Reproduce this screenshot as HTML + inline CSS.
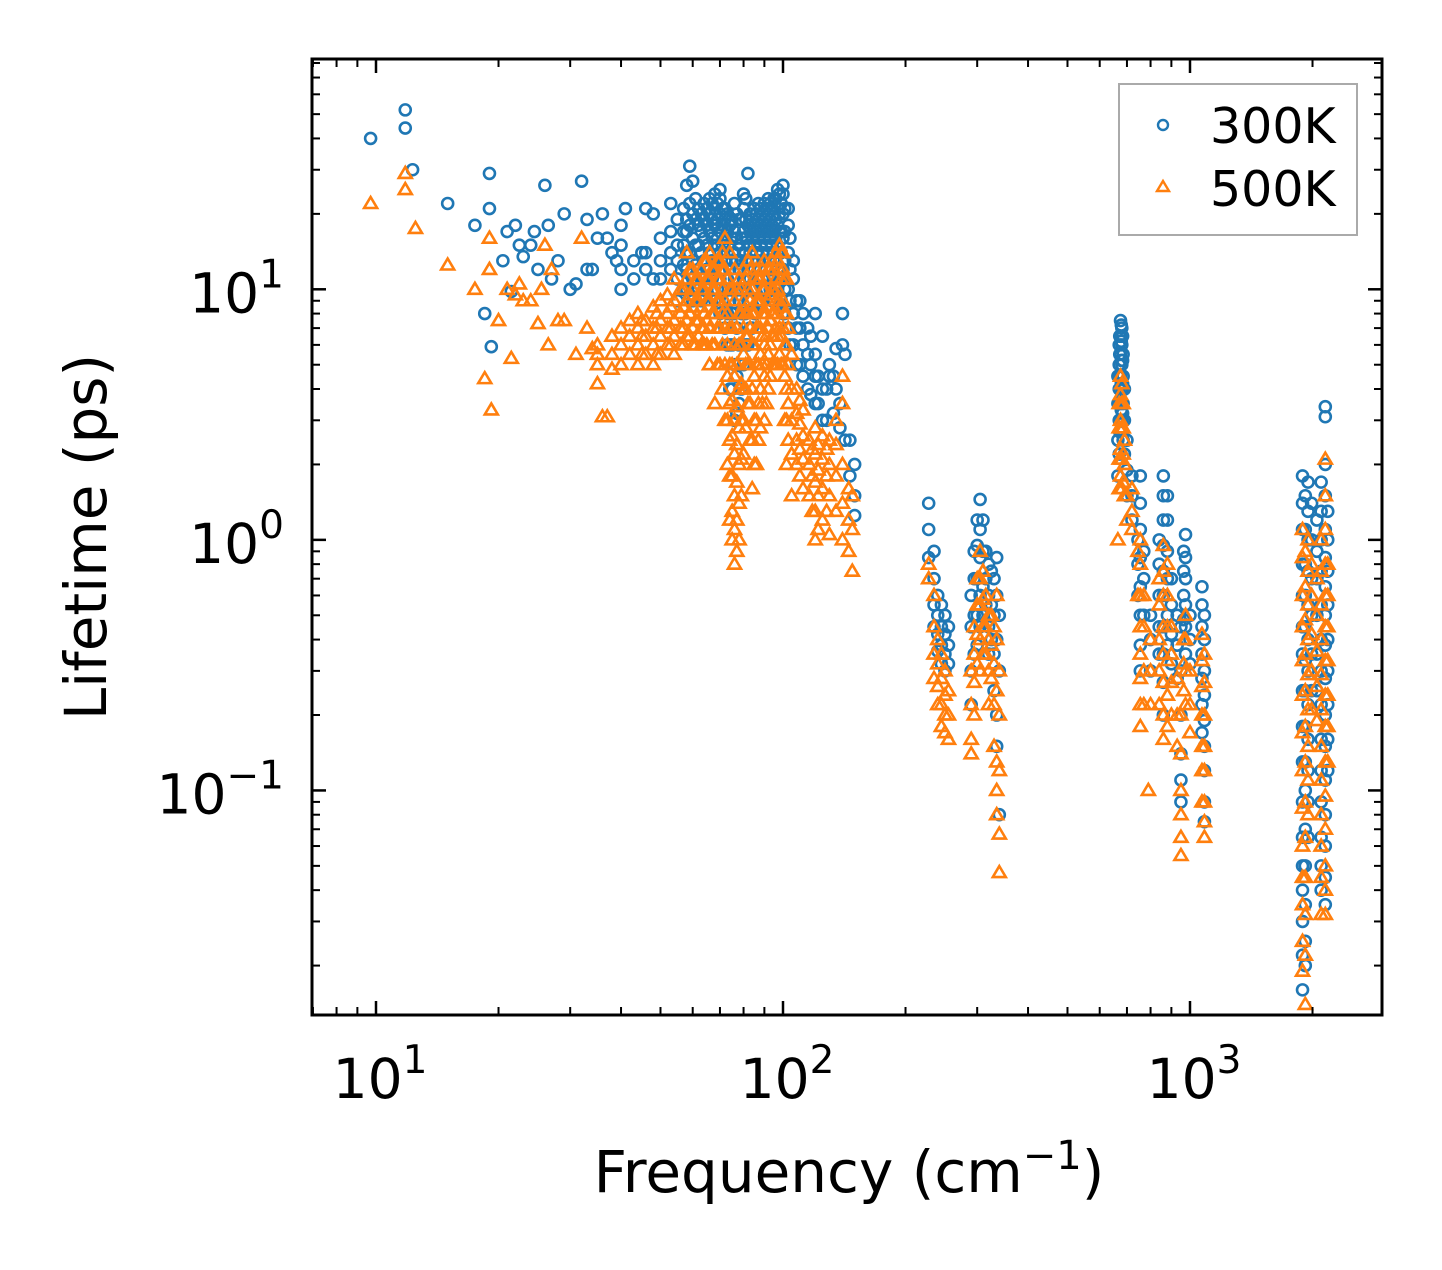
<!DOCTYPE html>
<html><head><meta charset="utf-8"><style>
html,body{margin:0;padding:0;background:#fff;}
svg text{font-family:"DejaVu Sans","Liberation Sans",sans-serif;fill:#000;}
</style></head><body>
<svg id="chart" width="1442" height="1265" viewBox="0 0 1442 1265" xmlns="http://www.w3.org/2000/svg">
<g id="marks300"></g>
<g id="marks500"></g>
<g id="axes"></g>
<text x="0" y="0" transform="translate(106,537) rotate(-90)" text-anchor="middle" font-size="58">Lifetime (ps)</text>
<text x="849" y="1192" text-anchor="middle" font-size="58">Frequency (cm<tspan dy="-23" font-size="40">−1</tspan><tspan dy="23">)</tspan></text>
<g>
<rect x="1119" y="84" width="238" height="151" fill="#fff" stroke="#aaa" stroke-width="2"/>
<circle cx="1163" cy="125" r="5" fill="none" stroke="#1f77b4" stroke-width="2.4"/>
<text x="1210" y="143" font-size="49">300K</text>
<polygon points="1163,181 1169,191 1157,191" fill="none" stroke="#ff7f0e" stroke-width="2.4"/>
<text x="1210" y="206" font-size="49">500K</text>
</g>
</svg>
<script>
// Data: [frequency cm^-1, [lifetimes ps ...]]
const cols300 = [
[9.7,[40]],[11.8,[52,44]],[12.3,[30]],[15,[22]],[17.5,[18]],[18.5,[8]],[19,[29,21]],[19.2,[5.9]],[20.5,[13]],[21,[17]],[21.5,[9.8]],[22,[18]],[22.5,[15]],[23,[13.5]],[24,[15]],[24.5,[17]],[25,[12]],[26,[26]],[26.5,[18]],[27,[11]],[28,[13]],[29,[20]],[30,[10]],[31,[10.5]],[32,[27]],[33,[19,12]],[34,[12]],[35,[16]],[36,[20]],[37,[16]],[38,[14]],[39,[13]],
[40,[10,12,15,18]],[41,[21]],[43,[11,13]],[45,[14]],[46,[12,14,21]],[48,[20,11]],[50,[11,13,16]],[53,[12,14,17,22]],[55,[9,11,13,15,19]],[57,[21]],[58,[10,12,14,17,19,26]],[59,[31]],[60,[9,11,13,16,20,27]],[62,[10,12,15,18,21]],[64,[11,13,16,19,22]],[66,[12,14,17,20,23]],[68,[9,12,15,18,21,24]],[70,[8,11,14,17,20,23,25]],[72,[7,10,13,16,19,21]],[74,[4,6,9,12,15,18]],[76,[3,5,8,11,14,17,22]],[78,[3.5,6,9,12,15,19]],[80,[5,8,11,14,17,21,24]],[82,[6,9,12,15,18,29]],[84,[7,10,13,16,19]],[86,[8,11,14,17,20]],[88,[9,12,15,18,21]],[90,[10,13,16,19,22]],[92,[11,14,17,20,23]],[94,[9,12,15,18,21]],[96,[10,13,16,19,23]],[98,[11,14,17,20,24]],[100,[8,12,16,20,24,26]],[103,[7,10,14,18,21]],[106,[6,8,11,13]],[110,[5,7,9]],[115,[4,5.5,7]],[120,[3.5,4.5,5.5,8]],[125,[3,4,6.5]],[130,[4.5,5]],[135,[4,5.8]],[138,[3.5,2.8]],[140,[8,6]],[142,[5.5,2.5]],[146,[2.5,1.8]],[150,[2,1.5,1.25]],
[57,[10,12.5,15,17]],[59,[9.5,11.5,14,18,22]],[61,[10,12.5,15,19,23]],[63,[9,11,14,17,20]],[65,[10,12,15,18,21]],[67,[11,13,16,19,22]],[69,[10,13,16,19,22]],[71,[9,12,15,18,21]],[73,[6,8,11,14,17,20]],[75,[4,6,8,10,13,16,19]],[77,[3.2,4.5,7,10,13,16,20]],[79,[4,6,8,10,13,16,19]],[81,[6,8,10,13,16,19,23]],[83,[7,9,11,14,17,20]],[85,[8,10,12,15,18,21]],[87,[9,11,13,16,19,22]],[89,[9,11,14,17,20]],[91,[10,12,15,18,21]],[93,[10,13,16,19,22]],[95,[9,11,14,17,20,23]],[97,[10,12,15,18,21,25]],[99,[9,11,14,17,22]],[101,[8,10,13,17,21]],[104,[6,9,12,16]],[108,[5,7,9]],[112,[4.5,6,8]],[117,[3.8,5,6.5]],[122,[3.5,4.5]],[128,[3,4]],[133,[3.2,4.5]],
[228,[1.4,1.1,0.85]],[235,[0.9,0.7,0.55,0.45]],[240,[0.6,0.5,0.42,0.36]],[245,[0.55,0.45,0.38,0.32]],[250,[0.5,0.42,0.35,0.3]],[255,[0.45,0.38,0.32]],
[290,[0.6,0.45,0.3,0.22]],[295,[0.9,0.7,0.5,0.35]],[300,[1.2,0.95,0.7,0.5,0.38]],[305,[1.45,1.1,0.85,0.6,0.45]],[310,[1.2,0.9,0.65,0.5]],[315,[0.9,0.7,0.55]],[320,[0.8,0.6,0.45,0.35]],[325,[0.75,0.55,0.4]],[330,[0.7,0.5,0.35,0.25]],[335,[0.85,0.6,0.4,0.2,0.15]],[340,[0.5,0.3,0.08]],
[665,[4.5,3.5,2.5,1.8]],[670,[6,5,4,3,2.2]],[672,[6.5,5.5,4.5,3.6,2.7]],[675,[7.5,6.5,5.5,4.5,3.5]],[678,[7.2,6.2,5.2,4.2,3.3]],[680,[7,6,5,4,3]],[683,[6.5,5.2,4.2,3.2]],[685,[5.5,4.5,3.5,2.5]],[690,[4,3,2.2]],[700,[2.5,1.9,1.5]],[720,[1.8,1.5,1.2]],
[745,[1.0,0.8,0.6]],[755,[1.8,1.4,1.1,0.85,0.65,0.5,0.38,0.3]],[770,[0.9,0.7,0.5]],[800,[0.5,0.4,0.3]],[840,[1.0,0.8,0.6,0.45,0.35]],[860,[1.8,1.5,1.2,0.95,0.75,0.6,0.45,0.35,0.27,0.2]],[880,[1.5,1.2,0.9,0.7,0.5,0.38]],[900,[0.7,0.55,0.42,0.32]],[930,[0.5,0.38,0.28]],[950,[0.45,0.3,0.2,0.14,0.11,0.09]],[965,[0.9,0.75,0.6,0.48]],[975,[1.05,0.85,0.7,0.55,0.45,0.35]],[1000,[0.5,0.4,0.32]],[1070,[0.65,0.55,0.45,0.35,0.28,0.22,0.17]],[1085,[0.5,0.4,0.3,0.24,0.19,0.15,0.12,0.09,0.075]],
[1890,[1.8,1.4,1.1,0.8,0.6,0.45,0.35,0.25,0.18,0.13,0.09,0.065,0.05,0.04,0.03,0.022,0.016]],[1920,[1.5,1.1,0.8,0.6,0.45,0.33,0.25,0.18,0.13,0.1,0.07,0.05,0.035,0.025,0.02]],[1950,[1.7,1.3,1.0,0.75,0.55,0.4,0.3,0.22,0.16,0.12,0.09,0.065]],[1990,[1.4,1.0,0.7,0.5,0.35,0.25]],[2050,[1.2,0.9,0.7,0.5,0.35,0.25]],[2100,[1.7,1.3,1.0,0.75,0.55,0.4,0.3,0.22,0.16,0.12,0.09,0.065,0.05,0.04]],[2150,[3.4,3.1,2.0,1.5,1.1,0.85,0.65,0.5,0.38,0.28,0.2,0.15,0.11,0.08,0.06,0.045,0.035]],[2180,[1.3,1.0,0.75,0.55,0.4,0.3,0.22,0.16,0.12]]
];
const cols500 = [
[9.7,[22]],[11.8,[29,25]],[12.5,[17.5]],[15,[12.5]],[17.5,[10]],[18.5,[4.4]],[19,[16,12]],[19.2,[3.3]],[20,[7.5]],[21,[10]],[21.5,[5.3]],[22,[9.5]],[22.5,[10.5]],[23,[9]],[24,[9]],[25,[7.3]],[25.5,[10]],[26,[15]],[26.5,[6]],[27,[12]],[28,[7.5]],[29,[7.5]],[31,[5.5]],[32,[16]],[33,[7]],[34,[5.8]],[35,[5,5.5,6,4.2]],[36,[3.1]],[37,[3.1]],
[38,[4.8,5.5,6.5]],[40,[5,6,7]],[42,[5.5,6.5,7.5]],[44,[5,6,7,8]],[45,[5.5,6.5,7.5]],[46,[5.5,6.5,7.5]],[48,[5,6,7,8.5]],[49,[5.5,7,8]],[50,[5.5,6.5,7.5,9]],[52,[6,7,8,9.5]],[53,[6,7,8.5]],[54,[5.5,6.5,7.5,9,11]],[56,[6,7,8,10]],[58,[6.5,7.5,9,11,14]],[60,[6,7,8.5,10,12]],[62,[6.5,7.5,9,11]],[64,[6,7,8,10,13]],[66,[5,7,9,11,14]],[68,[3.5,6,8,10,12]],[70,[5,7,9,11,13]],[72,[3,5,7,9,12,16]],[74,[1.2,1.8,2.5,3.5,5,7,10,14]],[76,[0.8,1.1,1.5,2.2,3,4.5,6,9,12]],[78,[1.0,1.4,2,2.8,4,6,8,11]],[80,[2.2,3,4,5.5,7,9,12]],[82,[3.5,5,6.5,8,10,13]],[84,[1.6,2.5,4,6,8,10,14]],[86,[2,3,5,7,9,12]],[88,[2.8,4,5.5,7,9,11]],[90,[3,4.5,6,8,10,13]],[92,[4,5.5,7,9,12]],[94,[5,6.5,8,10,13]],[96,[5,7,9,11,14]],[98,[5.5,7,9,12,15]],[100,[5,7,9,12,14]],[102,[2,3,4,6,8,11]],[105,[1.5,2.2,3,4,5.5]],[108,[2,2.5,3.2,4]],[112,[1.6,2.1,2.6,3.3]],[116,[1.5,2,2.5]],[120,[1.0,1.3,1.7,2.2,2.8]],[125,[1.2,1.6,2.1,2.6]],[130,[1.05,1.5,2,2.5]],[135,[1.3,1.8,2.4,3]],[140,[1.0,1.4,2,3.5,4.5]],[145,[0.9,1.2,1.6]],[148,[0.75,1.1,1.5]],
[57,[6,7,8.5,10]],[59,[6.5,8,9.5,12]],[61,[6,7.5,9,11]],[63,[6,7,8.5,10,12]],[65,[6,7.5,9,11,13]],[67,[6,8,10,12]],[69,[5,7,9,11,13]],[71,[4,6,8,10,12,14]],[73,[2,3,4.5,6,8,11]],[75,[1,1.3,1.8,2.6,3.6,5,7,10]],[77,[0.9,1.2,1.7,2.4,3.4,5,7,10]],[79,[1.5,2.1,3,4.2,6,8,10]],[81,[2.8,4,5,6.5,8,11]],[83,[2.5,3.5,5,7,9,12]],[85,[2,3,4.5,6,8,11]],[87,[2.5,3.5,5,7,9,11]],[89,[3.5,5,6.5,8,10,12]],[91,[3.5,5,6.5,8,11]],[93,[4.5,6,7.5,9.5,12]],[95,[5,6.5,8,10,12]],[97,[5,6.5,8,10,13]],[99,[5,6.5,8.5,11,14]],[101,[3,4.5,6,8,11]],[103,[2.5,3.5,5,7]],[110,[1.8,2.3,2.9,3.6]],[118,[1.3,1.8,2.3]],[122,[1.1,1.5,1.9,2.4]],[128,[1.3,1.8,2.3]],
[228,[0.8,0.7]],[235,[0.6,0.45,0.35,0.28]],[240,[0.4,0.32,0.26,0.22]],[245,[0.35,0.28,0.22,0.18]],[250,[0.3,0.24,0.2,0.17]],[255,[0.25,0.2,0.16]],
[290,[0.3,0.22,0.16,0.14]],[295,[0.45,0.35,0.27,0.2]],[300,[0.7,0.55,0.42,0.32]],[305,[0.9,0.7,0.55,0.4,0.3]],[310,[0.75,0.58,0.45,0.35]],[315,[0.6,0.45,0.35]],[320,[0.5,0.4,0.3,0.22]],[325,[0.5,0.38,0.28]],[330,[0.45,0.32,0.22,0.15]],[335,[0.6,0.4,0.25,0.13,0.1,0.08]],[340,[0.3,0.2,0.12,0.067,0.047]],
[665,[1.0]],[670,[3.5,2.8,2.1,1.6]],[675,[4.5,3.8,3,2.3,1.8]],[680,[4.2,3.5,2.8,2.1,1.6]],[685,[3.5,2.8,2.2,1.7]],[690,[2.5,2,1.5]],[700,[1.5,1.2]],[720,[1.6,1.3,1.1]],
[745,[0.9,0.6]],[755,[1.0,0.8,0.6,0.45,0.35,0.28,0.22,0.18]],[770,[0.6,0.45,0.3,0.22]],[790,[0.1]],[800,[0.4,0.3,0.22]],[840,[0.7,0.55,0.4,0.3,0.22]],[860,[0.95,0.75,0.6,0.45,0.35,0.27,0.2,0.16]],[880,[0.8,0.6,0.45,0.33,0.24,0.18]],[900,[0.45,0.35,0.27,0.2]],[930,[0.28,0.2,0.15]],[950,[0.2,0.14,0.1,0.08,0.065,0.055]],[965,[0.4,0.32,0.25]],[975,[0.5,0.4,0.3,0.22]],[1000,[0.3,0.22,0.17]],[1070,[0.42,0.33,0.26,0.2,0.15,0.12,0.09]],[1085,[0.35,0.27,0.2,0.15,0.12,0.09,0.075,0.065]],
[1890,[1.1,0.85,0.6,0.45,0.33,0.24,0.17,0.12,0.085,0.06,0.045,0.035,0.025,0.019]],[1920,[0.9,0.65,0.48,0.35,0.25,0.18,0.13,0.09,0.065,0.045,0.032,0.022,0.014]],[1950,[1.0,0.75,0.55,0.4,0.29,0.21,0.15,0.11,0.08]],[1990,[0.8,0.6,0.42,0.3,0.21]],[2050,[0.7,0.5,0.36,0.26,0.19]],[2100,[1.0,0.75,0.55,0.4,0.29,0.21,0.15,0.11,0.08,0.06,0.045,0.032]],[2150,[2.1,1.5,1.1,0.8,0.6,0.45,0.33,0.24,0.18,0.13,0.095,0.07,0.05,0.04,0.032]],[2180,[0.8,0.6,0.45,0.33,0.24,0.18,0.13]]
];
const xMajorTicks = [10, 100, 1000];
const xTickLabels = ["1", "2", "3"];
const yMajorTicks = [0.1, 1, 10];
const yTickLabels = ["−1", "0", "1"];

const NS = "http://www.w3.org/2000/svg";
const L = 312, R = 1382, T = 59, B = 1015;
const xMin = 1 - 64/407, xMax = 1 + 1006/407;
const yMin = Math.log10(0.0127), yMax = Math.log10(83);
function sx(f){ return L + (Math.log10(f) - xMin) / (xMax - xMin) * (R - L); }
function sy(t){ return B - (Math.log10(t) - yMin) / (yMax - yMin) * (B - T); }

const g3 = document.getElementById('marks300');
cols300.forEach(c => c[1].forEach(v => {
  const e = document.createElementNS(NS, 'circle');
  
  
  e.setAttribute('cx', sx(c[0])); e.setAttribute('cy', sy(v)); e.setAttribute('r', 5.5);
  e.setAttribute('fill', 'none'); e.setAttribute('stroke', '#1f77b4'); e.setAttribute('stroke-width', 2.6);
  g3.appendChild(e);
}));
const g5 = document.getElementById('marks500');
cols500.forEach(c => c[1].forEach(v => {
  const x = sx(c[0]), y = sy(v);
  const e = document.createElementNS(NS, 'polygon');
  
  
  e.setAttribute('points', `${x},${y-6.5} ${x+6.5},${y+4.5} ${x-6.5},${y+4.5}`);
  e.setAttribute('fill', 'none'); e.setAttribute('stroke', '#ff7f0e'); e.setAttribute('stroke-width', 2.6);
  g5.appendChild(e);
}));

const ax = document.getElementById('axes');
function line(x1,y1,x2,y2,w,name){
  const e = document.createElementNS(NS,'line');
  
  
  e.setAttribute('x1',x1);e.setAttribute('y1',y1);e.setAttribute('x2',x2);e.setAttribute('y2',y2);
  e.setAttribute('stroke','#000');e.setAttribute('stroke-width',w);
  ax.appendChild(e);
}
const fMin = Math.pow(10, xMin), fMax = Math.pow(10, xMax);
for (let d = 0; d <= 3; d++) for (let m = 1; m <= 9; m++) {
  const f = m * Math.pow(10, d);
  if (f < fMin || f > fMax) continue;
  const x = sx(f), len = m === 1 ? 14 : 8, w = m === 1 ? 2.5 : 2;
  line(x, B, x, B - len, w, 'x-tick');
  line(x, T, x, T + len, w, 'x-tick-top');
}
for (let d = -2; d <= 1; d++) for (let m = 1; m <= 9; m++) {
  const t = m * Math.pow(10, d);
  if (t < 0.0127 || t > 83) continue;
  const y = sy(t), len = m === 1 ? 14 : 8, w = m === 1 ? 2.5 : 2;
  line(L, y, L + len, y, w, 'y-tick');
  line(R, y, R - len, y, w, 'y-tick-right');
}
const fr = document.createElementNS(NS,'rect');


fr.setAttribute('x',L);fr.setAttribute('y',T);fr.setAttribute('width',R-L);fr.setAttribute('height',B-T);
fr.setAttribute('fill','none');fr.setAttribute('stroke','#000');fr.setAttribute('stroke-width',3);
ax.appendChild(fr);
xMajorTicks.forEach((f,i) => {
  const t = document.createElementNS(NS,'text');
  
  
  t.setAttribute('x', sx(f) + 4); t.setAttribute('y', 1098);
  t.setAttribute('text-anchor','middle'); t.setAttribute('font-size','55');
  t.innerHTML = `10<tspan dy="-25" font-size="39">${xTickLabels[i]}</tspan>`;
  ax.appendChild(t);
});
yMajorTicks.forEach((v,i) => {
  const t = document.createElementNS(NS,'text');
  
  
  t.setAttribute('x', 284); t.setAttribute('y', sy(v) + 23);
  t.setAttribute('text-anchor','end'); t.setAttribute('font-size','55');
  t.innerHTML = `10<tspan dy="-25" font-size="39">${yTickLabels[i]}</tspan>`;
  ax.appendChild(t);
});
</script>
</body></html>
